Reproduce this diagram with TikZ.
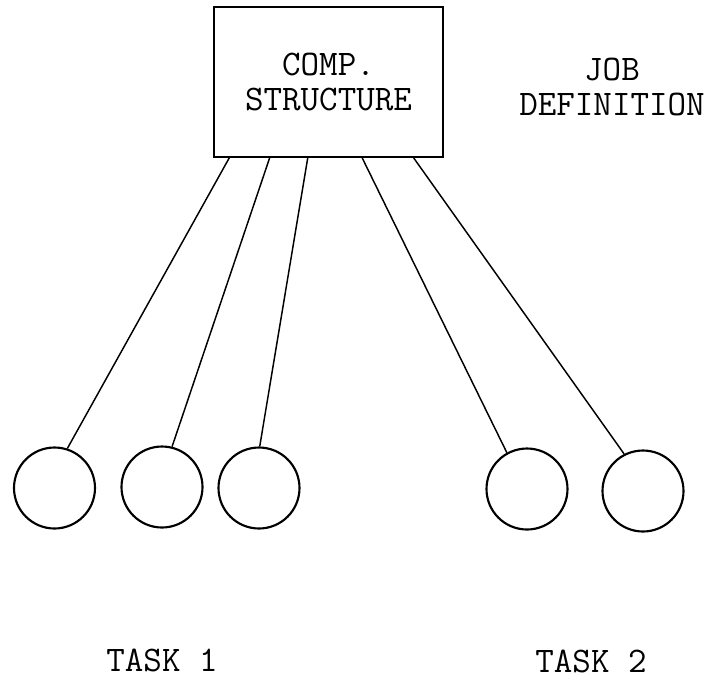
\documentclass[tikz,border=0pt]{standalone}
\usetikzlibrary{calc}

\begin{document}
\begin{tikzpicture}[x=0.75pt, y=-0.75pt,
  caption/.style = {align=center, inner sep=0pt,
    font=\ttfamily\fontsize{27}{26}\selectfont},
  struct/.style = {shape=rectangle, draw, line width=1.4pt, caption,
    minimum width=171.75pt, minimum height=112.5pt},
  task/.style = {shape=circle, draw, line width=1.6pt,
    minimum size=60.75pt, inner sep=0pt},
  link/.style = {line width=1.1pt}]
  \useasboundingbox (0,0) rectangle (714,679);

  \node[struct] (comp) at (328.5,82) {COMP.\\STRUCTURE};
  \node[caption] (jobdef) at (612,87) {JOB\\DEFINITION};

  \node[task] (t1) at (54.5,488) {};
  \node[task] (t2) at (162,487) {};
  \node[task] (t3) at (259,488) {};
  \node[task] (t4) at (527,489) {};
  \node[task] (t5) at (643,491) {};

  \draw[link] ($(comp.south west)!0.07!(comp.south east)$) -- (t1.72);
  \draw[link] ($(comp.south west)!0.245!(comp.south east)$) -- (t2.76);
  \draw[link] ($(comp.south west)!0.41!(comp.south east)$) -- (t3.89);
  \draw[link] ($(comp.south west)!0.646!(comp.south east)$) -- (t4.119);
  \draw[link] ($(comp.south west)!0.869!(comp.south east)$) -- (t5.117);

  \node[caption, anchor=base] (task1) at (162,671) {TASK 1};
  \node[caption, anchor=base] (task2) at (591,672) {TASK 2};
\end{tikzpicture}
\end{document}
